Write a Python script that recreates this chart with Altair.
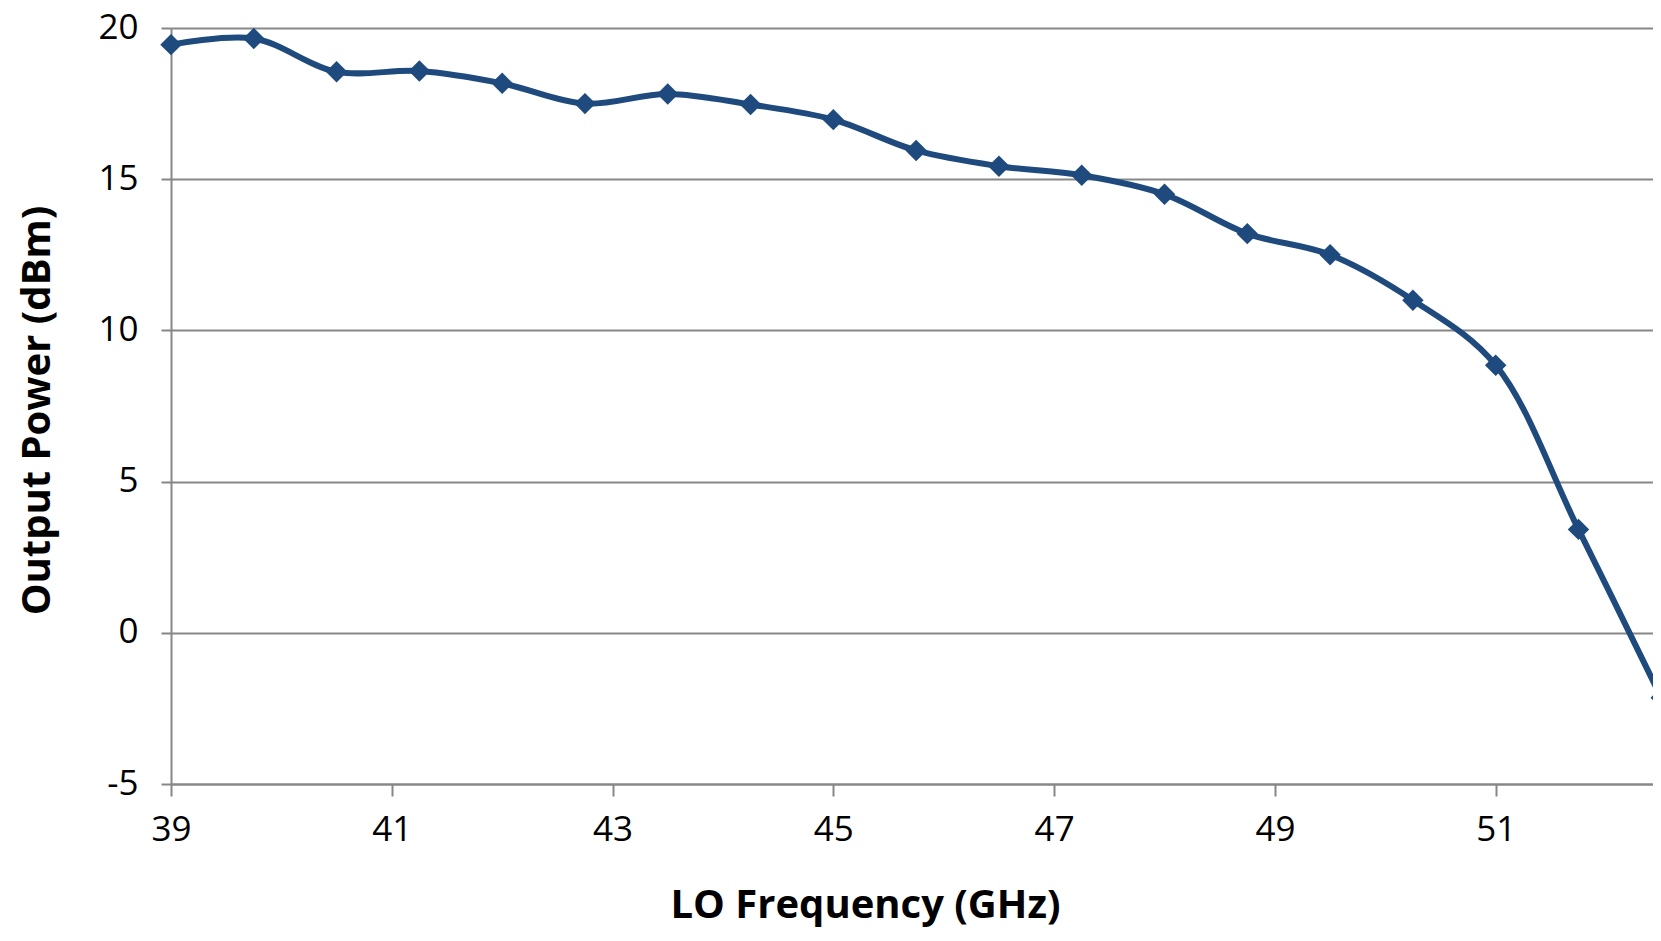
import altair as alt
import pandas as pd

freq_ghz = [39, 39.75, 40.5, 41.25, 42, 42.75, 43.5, 44.25, 45, 45.75,
            46.5, 47.25, 48, 48.75, 49.5, 50.25, 51, 51.75, 52.5]
power_dbm = [19.45, 19.65, 18.55, 18.58, 18.17, 17.5, 17.82, 17.47, 16.97, 15.95,
             15.43, 15.13, 14.5, 13.2, 12.5, 11.0, 8.85, 3.42, -2.15]
x_ticks = [39, 41, 43, 45, 47, 49, 51]
y_ticks = [-5, 0, 5, 10, 15, 20]

df = pd.DataFrame({"freq": freq_ghz, "power": power_dbm})

LINE = "#1F4A7D"
GRID = "#878787"
FONT = "Open Sans"

x_enc = alt.X(
    "freq:Q",
    scale=alt.Scale(domain=[39, 52.425], nice=False, zero=False),
    axis=alt.Axis(
        title="LO Frequency (GHz)",
        values=x_ticks,
        format="d",
        grid=False,
        domainColor=GRID,
        domainWidth=2,
        tickColor=GRID,
        tickWidth=2,
        tickSize=12,
        labelFont=FONT,
        labelFontSize=35,
        labelColor="#000000",
        labelPadding=16,
        labelFlush=False,
        labelOverlap=False,
        titleFont=FONT,
        titleFontSize=40,
        titleFontWeight="bold",
        titleColor="#000000",
        titleX=694,
        titleY=133,
        titleAlign="center",
        titleBaseline="alphabetic",
    ),
)
y_enc = alt.Y(
    "power:Q",
    scale=alt.Scale(domain=[-5, 20], nice=False, zero=False),
    axis=alt.Axis(
        title="Output Power (dBm)",
        values=y_ticks,
        labelExpr="replace(format(datum.value, 'd'), '\u2212', '-')",
        grid=True,
        gridColor=GRID,
        gridWidth=2,
        domainColor=GRID,
        domainWidth=2,
        tickColor=GRID,
        tickWidth=2,
        tickSize=10,
        labelFont=FONT,
        labelFontSize=35,
        labelColor="#000000",
        labelPadding=23,
        labelOffset=-1,
        labelFlush=False,
        labelOverlap=False,
        titleFont=FONT,
        titleFontSize=40,
        titleFontWeight="bold",
        titleColor="#000000",
        titleX=-134,
        titleY=382,
        titleAngle=270,
        titleAlign="center",
        titleBaseline="middle",
    ),
)

line = alt.Chart(df).mark_line(
    color=LINE, strokeWidth=6, interpolate="catmull-rom", clip=False
).encode(x=x_enc, y=y_enc)

points = alt.Chart(df).mark_point(
    shape="diamond", filled=True, size=460, color=LINE, opacity=1, clip=False
).encode(x="freq:Q", y="power:Q")

chart = (
    alt.layer(line, points)
    .properties(
        width=1482,
        height=756,
        autosize=alt.AutoSizeParams(type="none"),
        padding={"left": 163, "top": 20, "right": 0, "bottom": 143},
    )
    .configure_view(stroke=None)
    .configure(background="white")
)

chart.save("out.html", embed_options={"renderer": "svg", "actions": False})
